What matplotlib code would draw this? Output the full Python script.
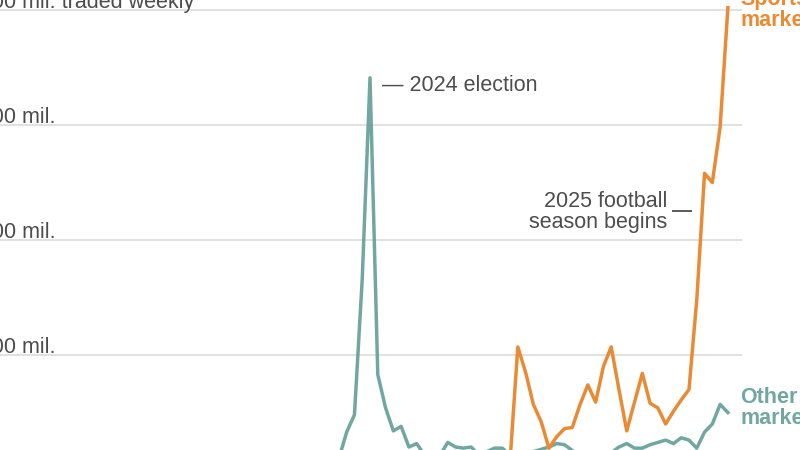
import numpy as np
import matplotlib
matplotlib.use("Agg")
import matplotlib.pyplot as plt

# weeks counted from the 2024 election week
other_weeks = list(range(-5, 47))
other_vals = [8, 10, 33, 48, 166, 341, 83, 54, 34, 38, 20, 23, 13, 9, 13, 24,
              20, 19, 20, 13, 16, 19, 19, 13, 10, 13, 16, 18, 20, 23, 22, 17,
              13, 12, 13, 14, 15, 20, 23, 19, 19, 22, 24, 26, 23, 28, 26, 19,
              33, 40, 57, 50]
sports_weeks = list(range(17, 47))
sports_vals = [6, 8, 107, 85, 57, 42, 19, 29, 36, 37, 57, 74, 59, 90, 107, 70,
               34, 59, 84, 58, 54, 40, 51, 61, 70, 148, 258, 250, 298, 402]
grid_vals = [100, 200, 300, 400]
grid_labels = ["$100 mil.", "$200 mil.", "$300 mil.", "$400 mil. traded weekly"]

TEAL = "#72a7a1"
ORANGE = "#e98b35"
GRAY = "#4d4d4d"
FS = 15.5
plt.rcParams["font.family"] = ["Liberation Sans", "DejaVu Sans"]

fig = plt.figure(figsize=(8, 4.5), dpi=100)
ax = fig.add_axes([0, 0, 1, 1])
ax.set_xlim(-47.56, 55.27)
ax.set_ylim(17.4, 408.7)
ax.axis("off")

# find where "$100 mil." starts if its right edge sits at x = 55 px
probe = fig.text(55 / 800, 0.5, grid_labels[0], fontsize=FS, ha="right")
fig.canvas.draw()
left_px = probe.get_window_extent().x0
probe.remove()

for v, lab in zip(grid_vals, grid_labels):
    ax.hlines(v, -48, 47.8, color="#dcdcdc", lw=1.2, zorder=1)
    ax.annotate(lab, xy=(left_px, v), xycoords=("figure pixels", "data"),
                xytext=(0, 2.5), textcoords="offset pixels",
                ha="left", va="baseline", fontsize=FS, color=GRAY)

ax.plot(other_weeks, other_vals, color=TEAL, lw=2.5, zorder=3)
ax.plot(sports_weeks, sports_vals, color=ORANGE, lw=2.5, zorder=4)

ax.text(1.6, 334.5, "\u2014 2024 election", fontsize=FS, color=GRAY, va="center")
ax.text(38.2, 224.4, "2025 football\nseason begins", fontsize=FS,
        color=GRAY, ha="right", va="center", linespacing=1.0)
ax.hlines(225.5, 38.8, 41.4, color=GRAY, lw=1.3)

ax.text(47.6, 400, "Sports\nmarkets", fontsize=FS, color=ORANGE,
        fontweight="bold", va="center", linespacing=0.95)
ax.text(47.6, 54, "Other\nmarkets", fontsize=FS, color=TEAL,
        fontweight="bold", va="center", linespacing=0.95)

fig.savefig("out.png", dpi=100)
